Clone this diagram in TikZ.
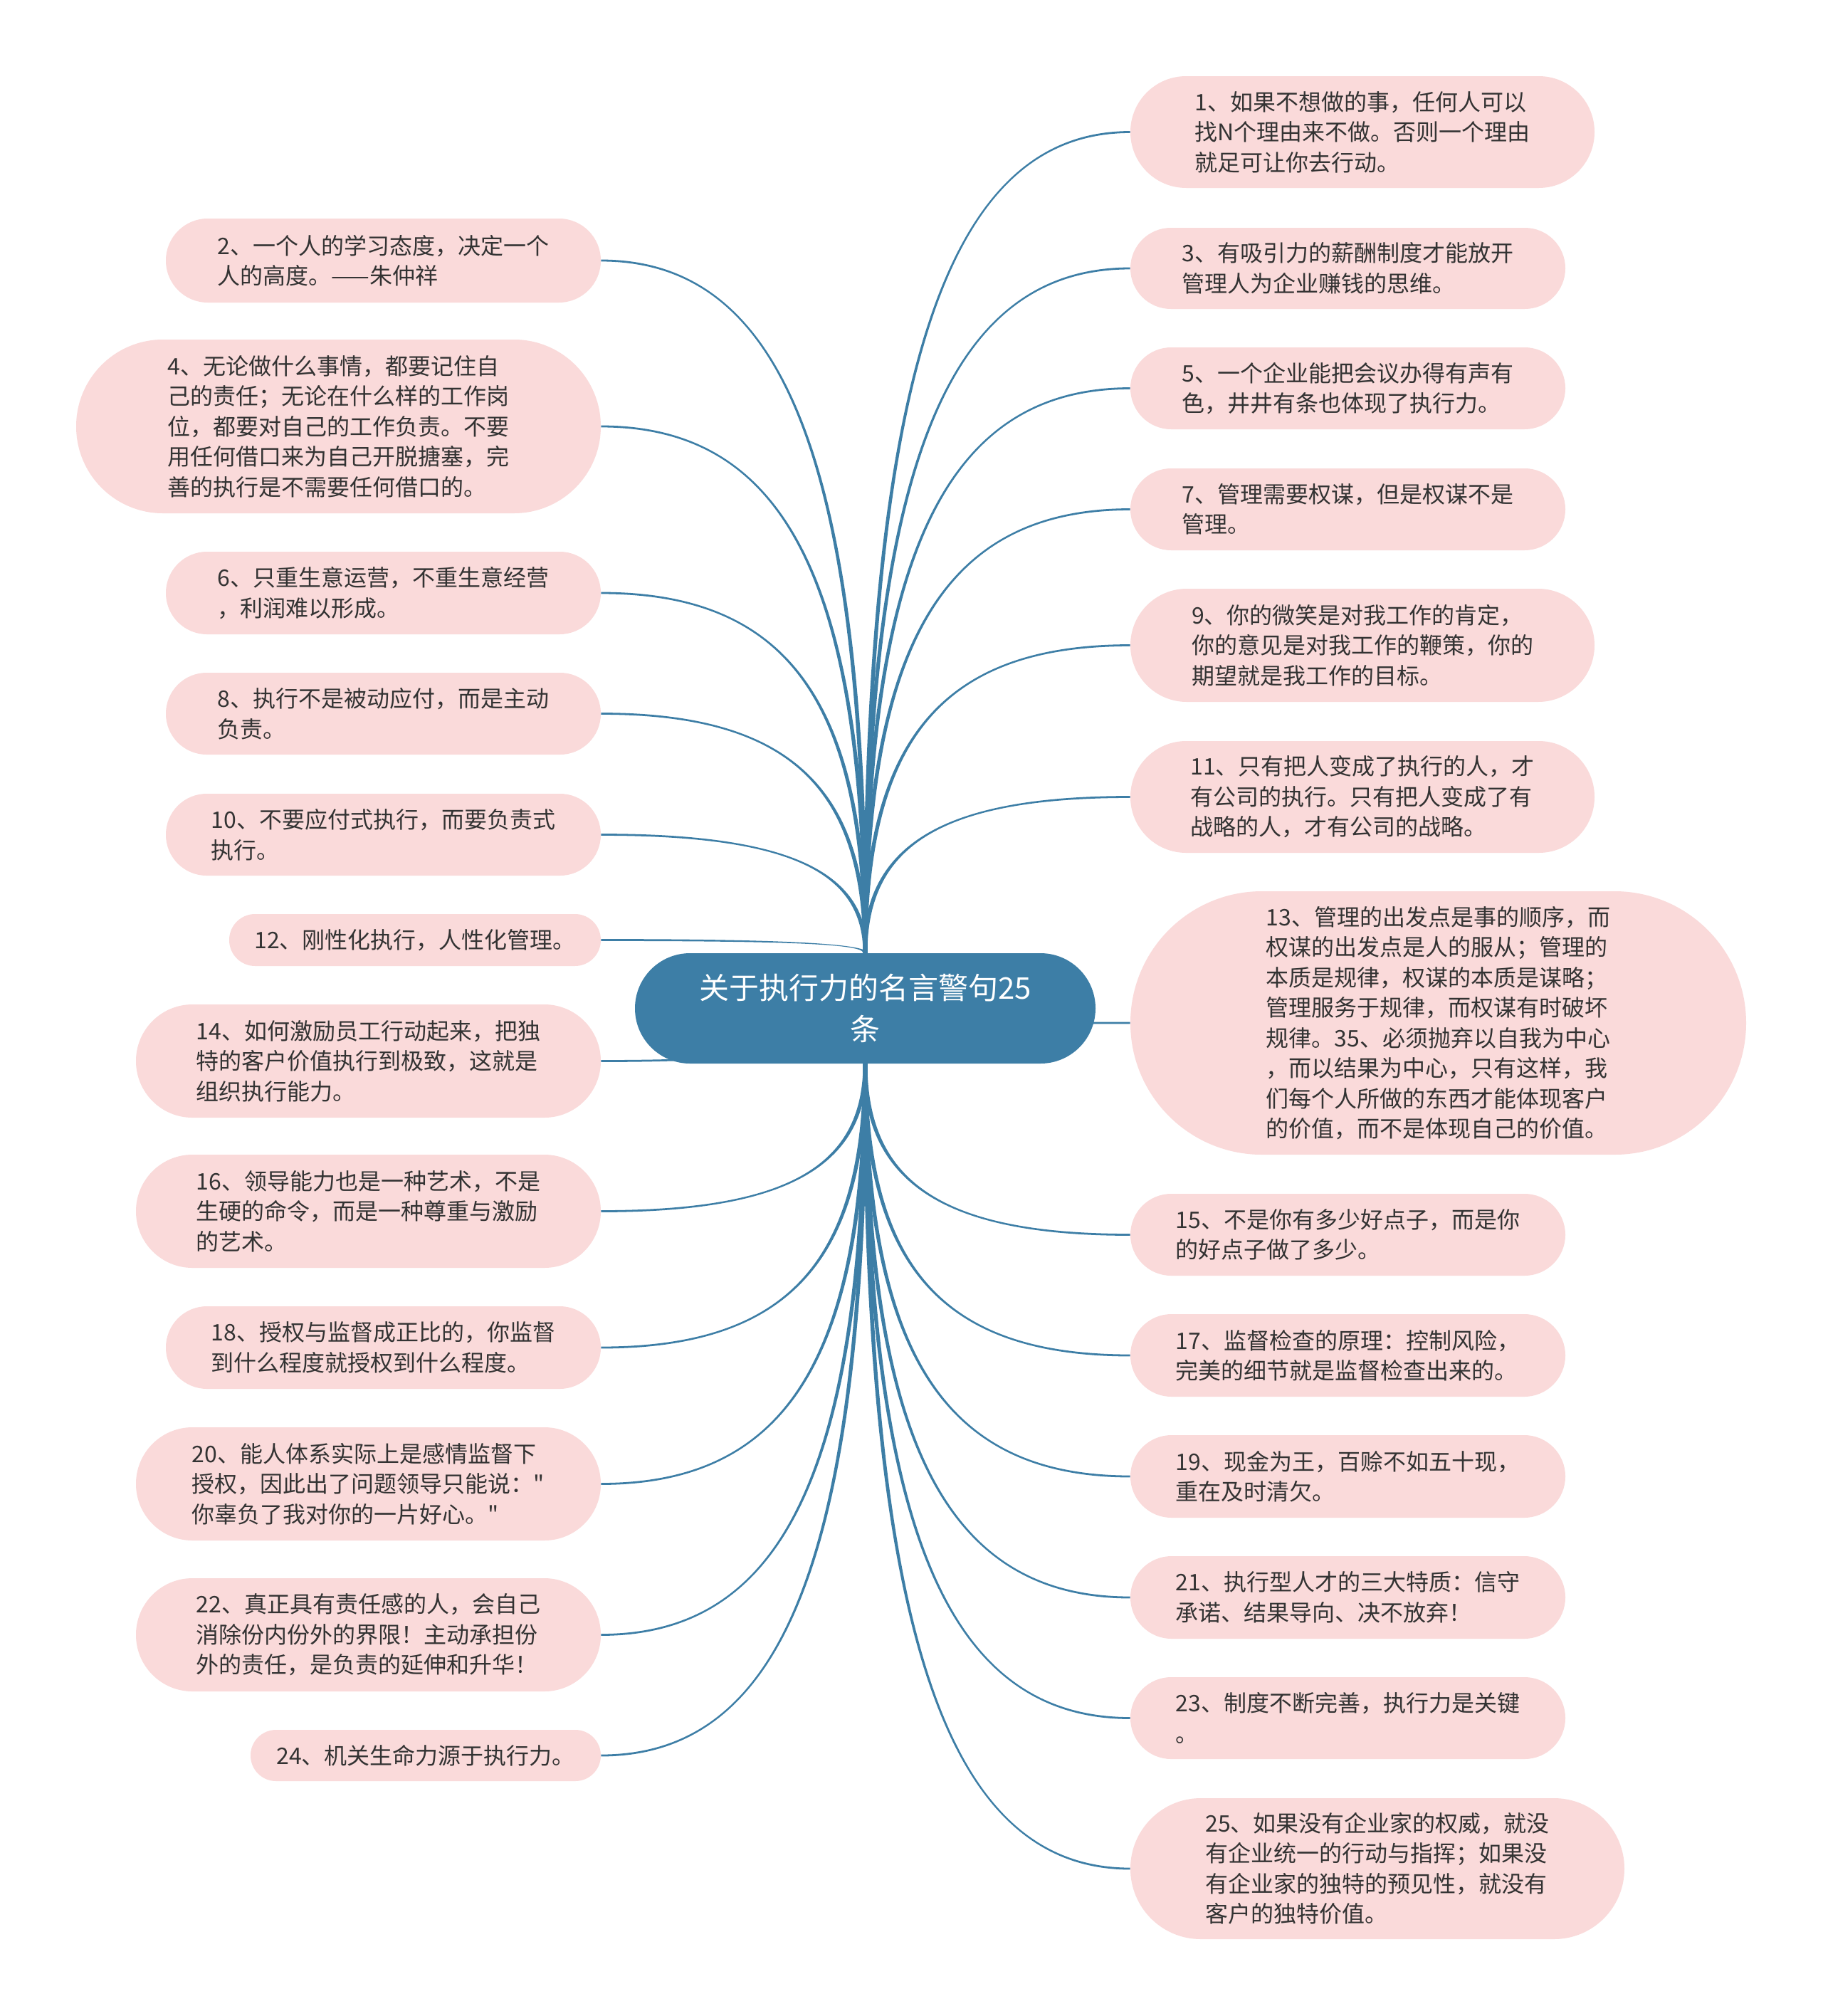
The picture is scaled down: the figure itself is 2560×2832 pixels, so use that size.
\documentclass[tikz,border=0pt]{standalone}
\usepackage{fontspec}
\setmainfont{Noto Sans CJK SC}[Ligatures=TeXOff]
\usetikzlibrary{calc}
\definecolor{pinkfill}{RGB}{250,218,218}
\definecolor{hub}{RGB}{61,126,166}
\definecolor{ink}{RGB}{51,51,51}
\pgfdeclarelayer{back}
\pgfdeclarelayer{links}
\pgfsetlayers{back,links,main}
\tikzset{
  leaf/.style={fill=pinkfill,draw=none,inner sep=0pt,align=left,text=ink,
    font=\fontsize{16}{21.25}\selectfont},
  hubnode/.style={fill=hub,draw=none,inner sep=0pt,align=center,text=white,
    font=\fontsize{21}{29}\selectfont},
  linkc/.style={fill=hub,draw=none}
}
% name, x1, y1, x2, y2, text  (pixel coordinates of the reference)
\newcommand\leafnode[6]{%
  \pgfmathsetmacro\lw{(#4-#2)/2}%
  \pgfmathsetmacro\lh{(#5-#3)/2}%
  \pgfmathsetmacro\lr{(#5-#3)/4-0.05}%
  \node[leaf,minimum width=\lw pt,minimum height=\lh pt,rounded corners=\lr pt]
    (#1) at ({(#2+#4)/2},{(#3+#5)/2}) {#6};}
% tapered connector from anchor #1 to anchor #2
\newcommand\conn[2]{%
  \fill[linkc] let \p1=(#1), \p2=(#2),
    \n1={sign(\y2-\y1)}, \n2={sign(\x2-\x1)} in
    ({\x1-\n1*1.5pt},\y1)
      .. controls ({\x1-\n1*1.5pt},{\y1+0.7*(\y2-\y1)}) and ({\x1+0.3*(\x2-\x1)},{\y2+\n2*0.7pt})
      .. (\x2,{\y2+\n2*0.7pt})
    -- (\x2,{\y2-\n2*0.7pt})
      .. controls ({\x1+0.3*(\x2-\x1)},{\y2-\n2*0.7pt}) and ({\x1+\n1*1.5pt},{\y1+0.7*(\y2-\y1)})
      .. ({\x1+\n1*1.5pt},\y1)
    -- cycle;}
\begin{document}
\begin{tikzpicture}[x=0.5pt,y=-0.5pt]
\begin{pgfonlayer}{back}
\fill[white] (0,0) rectangle (2560,2832);
\end{pgfonlayer}
\useasboundingbox (0,0) rectangle (2560,2832);

\node[hubnode,minimum width=323.5pt,minimum height=77.5pt,rounded corners=38.7pt]
  (c) at (1215.5,1416.5) {关于执行力的名言警句25\\条};

% right side
\leafnode{r1}{1588}{107}{2240}{264}{1、如果不想做的事，任何人可以\\找N个理由来不做。否则一个理由\\就足可让你去行动。}
\leafnode{r3}{1588}{320}{2199}{434}{3、有吸引力的薪酬制度才能放开\\管理人为企业赚钱的思维。}
\leafnode{r5}{1588}{488}{2199}{603}{5、一个企业能把会议办得有声有\\色，井井有条也体现了执行力。}
\leafnode{r7}{1588}{658}{2199}{773}{7、管理需要权谋，但是权谋不是\\管理。}
\leafnode{r9}{1588}{827}{2240}{986}{9、你的微笑是对我工作的肯定，\\你的意见是对我工作的鞭策，你的\\期望就是我工作的目标。}
\leafnode{r11}{1588}{1041}{2240}{1198}{11、只有把人变成了执行的人，才\\有公司的执行。只有把人变成了有\\战略的人，才有公司的战略。}
\leafnode{r13}{1588}{1252}{2453}{1622}{13、管理的出发点是事的顺序，而\\权谋的出发点是人的服从；管理的\\本质是规律，权谋的本质是谋略；\\管理服务于规律，而权谋有时破坏\\规律。35、必须抛弃以自我为中心\\，而以结果为中心，只有这样，我\\们每个人所做的东西才能体现客户\\的价值，而不是体现自己的价值。}
\leafnode{r15}{1588}{1677}{2199}{1792}{15、不是你有多少好点子，而是你\\的好点子做了多少。}
\leafnode{r17}{1588}{1846}{2199}{1962}{17、监督检查的原理：控制风险，\\完美的细节就是监督检查出来的。}
\leafnode{r19}{1588}{2016}{2199}{2132}{19、现金为王，百赊不如五十现，\\重在及时清欠。}
\leafnode{r21}{1588}{2186}{2199}{2302}{21、执行型人才的三大特质：信守\\承诺、结果导向、决不放弃！}
\leafnode{r23}{1588}{2356}{2199}{2471}{23、制度不断完善，执行力是关键\\。}
\leafnode{r25}{1588}{2526}{2282}{2724}{25、如果没有企业家的权威，就没\\有企业统一的行动与指挥；如果没\\有企业家的独特的预见性，就没有\\客户的独特价值。}

% left side
\leafnode{l2}{233}{307}{844}{425}{2、一个人的学习态度，决定一个\\人的高度。——朱仲祥}
\leafnode{l4}{107}{477}{844}{721}{4、无论做什么事情，都要记住自\\己的责任；无论在什么样的工作岗\\位，都要对自己的工作负责。不要\\用任何借口来为自己开脱搪塞，完\\善的执行是不需要任何借口的。}
\leafnode{l6}{233}{775}{844}{891}{6、只重生意运营，不重生意经营\\，利润难以形成。}
\leafnode{l8}{233}{945}{844}{1060}{8、执行不是被动应付，而是主动\\负责。}
\leafnode{l10}{233}{1115}{844}{1230}{10、不要应付式执行，而要负责式\\执行。}
\leafnode{l12}{322}{1284}{844}{1357}{12、刚性化执行，人性化管理。}
\leafnode{l14}{191}{1411}{844}{1570}{14、如何激励员工行动起来，把独\\特的客户价值执行到极致，这就是\\组织执行能力。}
\leafnode{l16}{191}{1622}{844}{1781}{16、领导能力也是一种艺术，不是\\生硬的命令，而是一种尊重与激励\\的艺术。}
\leafnode{l18}{233}{1835}{844}{1951}{18、授权与监督成正比的，你监督\\到什么程度就授权到什么程度。}
\leafnode{l20}{191}{2005}{844}{2164}{20、能人体系实际上是感情监督下\\授权，因此出了问题领导只能说："\\你辜负了我对你的一片好心。"}
\leafnode{l22}{191}{2217}{844}{2376}{22、真正具有责任感的人，会自己\\消除份内份外的界限！主动承担份\\外的责任，是负责的延伸和升华！}
\leafnode{l24}{352}{2430}{844}{2502}{24、机关生命力源于执行力。}

\begin{pgfonlayer}{links}
\foreach \t in {r1,r3,r5,r7,r9,r11}{\conn{c.north}{\t.west}}
\conn{c.center}{r13.west}
\foreach \t in {r15,r17,r19,r21,r23,r25}{\conn{c.south}{\t.west}}
\foreach \t in {l2,l4,l6,l8,l10,l12}{\conn{c.north}{\t.east}}
\conn{c.center}{l14.east}
\foreach \t in {l16,l18,l20,l22,l24}{\conn{c.south}{\t.east}}
\end{pgfonlayer}
\end{tikzpicture}
\end{document}
